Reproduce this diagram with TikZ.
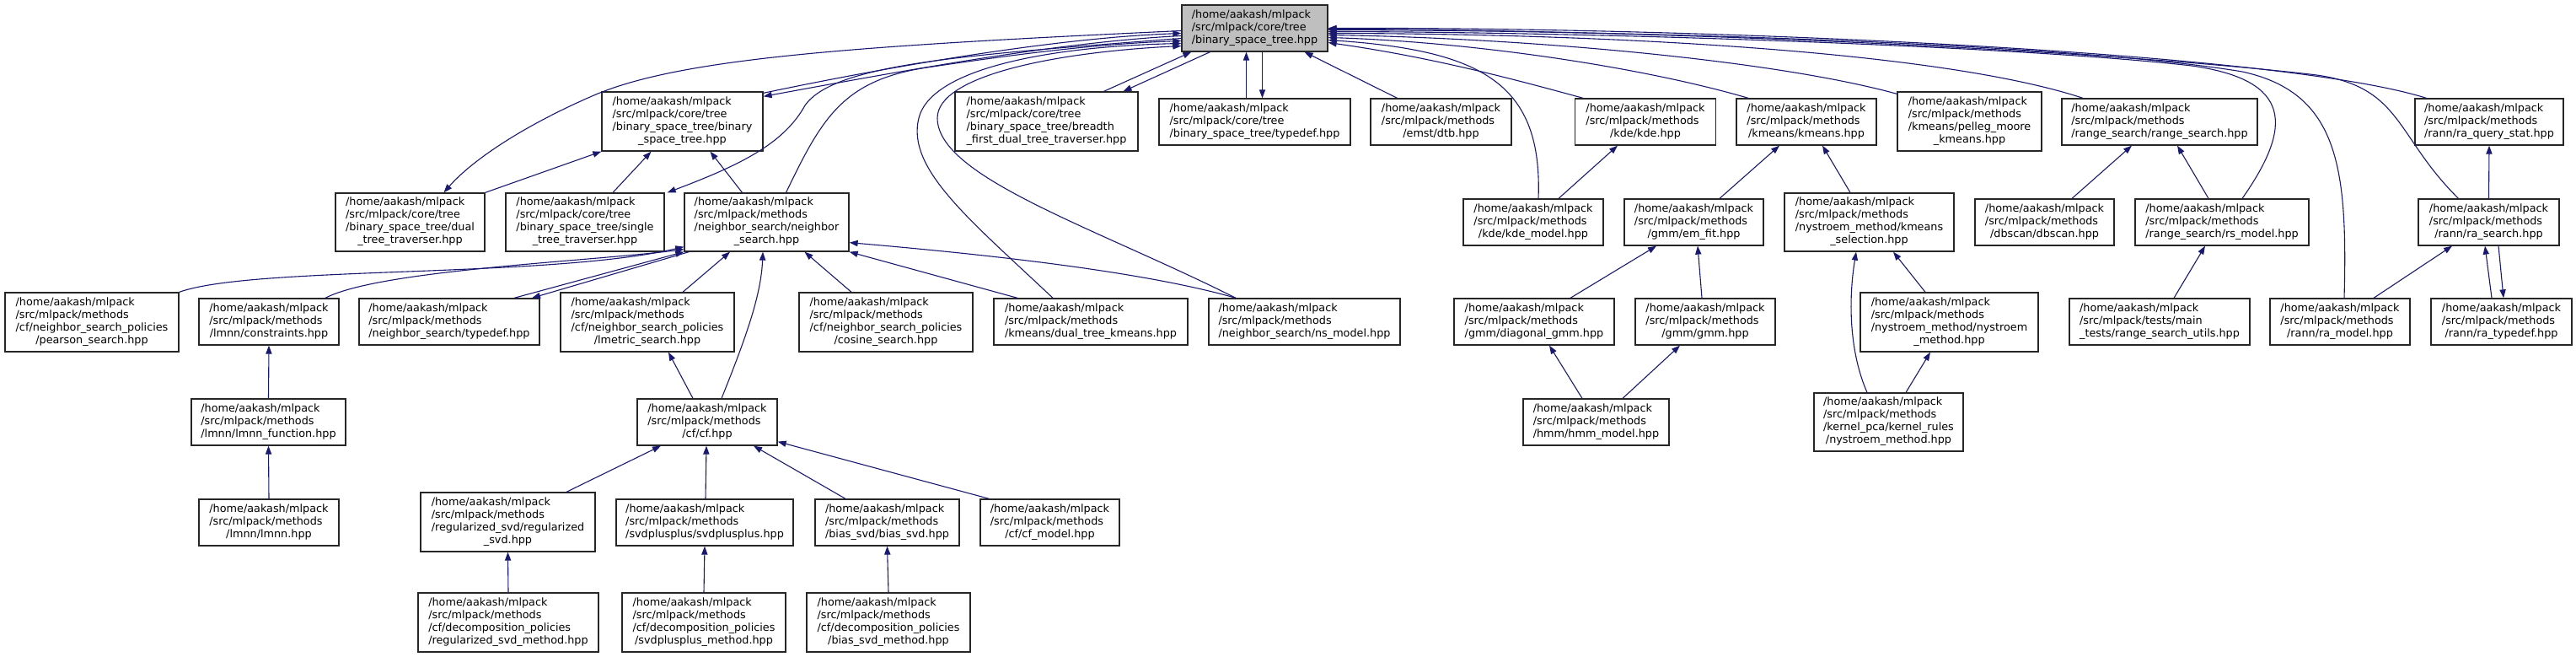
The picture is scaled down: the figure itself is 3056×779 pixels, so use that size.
\documentclass[tikz,border=0pt]{standalone}
\usepackage{fontspec}
\setmainfont{DejaVu Sans}
\usetikzlibrary{arrows.meta}
\definecolor{edgeblue}{RGB}{25,25,112}
\definecolor{rootfill}{RGB}{191,191,191}
\newcommand{\hpath}[2]{\begin{tabular}{@{}l@{}}#1\\\multicolumn{1}{@{}c@{}}{#2}\end{tabular}}

\begin{document}
\begin{tikzpicture}[x=0.5pt, y=-0.5pt,
    hfile/.style 2 args={draw=black!85, line width=0.65pt, fill=white, inner sep=0pt,
        minimum width=#1*0.5pt, minimum height=#2*0.5pt, font=\fontsize{6.4}{7.5}\selectfont},
    incl/.style={draw=edgeblue, line width=0.55pt, -{Triangle[length=5pt,width=3.6pt]}}]
    \useasboundingbox (0,0) rectangle (3056,779);

    % Root file
    \node[hfile={173}{55}, fill=rootfill] (root) at (1488.5,33.5) {\hpath{/home/aakash/mlpack\\/src/mlpack/core/tree}{/binary\_space\_tree.hpp}};

    % First row
    \node[hfile={191}{70}] (binary) at (809.5,144) {\hpath{/home/aakash/mlpack\\/src/mlpack/core/tree\\/binary\_space\_tree/binary}{\_space\_tree.hpp}};
    \node[hfile={217}{70}] (breadth) at (1241.5,144) {\hpath{/home/aakash/mlpack\\/src/mlpack/core/tree\\/binary\_space\_tree/breadth}{\_first\_dual\_tree\_traverser.hpp}};
    \node[hfile={227}{55}] (bsttypedef) at (1488.5,144.5) {\hpath{/home/aakash/mlpack\\/src/mlpack/core/tree}{/binary\_space\_tree/typedef.hpp}};
    \node[hfile={167}{55}] (emst) at (1709.5,144.5) {\hpath{/home/aakash/mlpack\\/src/mlpack/methods}{/emst/dtb.hpp}};
    \node[hfile={167}{55}] (kde) at (1952,144.5) {\hpath{/home/aakash/mlpack\\/src/mlpack/methods}{/kde/kde.hpp}};
    \node[hfile={166}{55}] (kmeans) at (2143,144.5) {\hpath{/home/aakash/mlpack\\/src/mlpack/methods}{/kmeans/kmeans.hpp}};
    \node[hfile={171}{70}] (pelleg) at (2336.5,144) {\hpath{/home/aakash/mlpack\\/src/mlpack/methods\\/kmeans/pelleg\_moore}{\_kmeans.hpp}};
    \node[hfile={232}{55}] (rangesearch) at (2562,144.5) {\hpath{/home/aakash/mlpack\\/src/mlpack/methods}{/range\_search/range\_search.hpp}};
    \node[hfile={176}{55}] (raquery) at (2953,144.5) {\hpath{/home/aakash/mlpack\\/src/mlpack/methods}{/rann/ra\_query\_stat.hpp}};

    % Second row
    \node[hfile={177}{69}] (dualtt) at (486.5,263.5) {\hpath{/home/aakash/mlpack\\/src/mlpack/core/tree\\/binary\_space\_tree/dual}{\_tree\_traverser.hpp}};
    \node[hfile={188}{69}] (singlett) at (694,263.5) {\hpath{/home/aakash/mlpack\\/src/mlpack/core/tree\\/binary\_space\_tree/single}{\_tree\_traverser.hpp}};
    \node[hfile={195}{69}] (nsearch) at (909.5,263.5) {\hpath{/home/aakash/mlpack\\/src/mlpack/methods\\/neighbor\_search/neighbor}{\_search.hpp}};
    \node[hfile={166}{55}] (kdemodel) at (1819,263.5) {\hpath{/home/aakash/mlpack\\/src/mlpack/methods}{/kde/kde\_model.hpp}};
    \node[hfile={165}{55}] (emfit) at (2009.5,263.5) {\hpath{/home/aakash/mlpack\\/src/mlpack/methods}{/gmm/em\_fit.hpp}};
    \node[hfile={201}{69}] (kmeanssel) at (2217.5,263.5) {\hpath{/home/aakash/mlpack\\/src/mlpack/methods\\/nystroem\_method/kmeans}{\_selection.hpp}};
    \node[hfile={165}{55}] (dbscan) at (2425.5,263.5) {\hpath{/home/aakash/mlpack\\/src/mlpack/methods}{/dbscan/dbscan.hpp}};
    \node[hfile={206}{55}] (rsmodel) at (2636,263.5) {\hpath{/home/aakash/mlpack\\/src/mlpack/methods}{/range\_search/rs\_model.hpp}};
    \node[hfile={167}{55}] (rasearch) at (2952.5,263.5) {\hpath{/home/aakash/mlpack\\/src/mlpack/methods}{/rann/ra\_search.hpp}};

    % Third row
    \node[hfile={206}{70}] (pearson) at (109,382) {\hpath{/home/aakash/mlpack\\/src/mlpack/methods\\/cf/neighbor\_search\_policies}{/pearson\_search.hpp}};
    \node[hfile={166}{55}] (constraints) at (319,381.5) {\hpath{/home/aakash/mlpack\\/src/mlpack/methods}{/lmnn/constraints.hpp}};
    \node[hfile={214}{55}] (nstypedef) at (533,381.5) {\hpath{/home/aakash/mlpack\\/src/mlpack/methods}{/neighbor\_search/typedef.hpp}};
    \node[hfile={206}{70}] (lmetric) at (768,382) {\hpath{/home/aakash/mlpack\\/src/mlpack/methods\\/cf/neighbor\_search\_policies}{/lmetric\_search.hpp}};
    \node[hfile={206}{70}] (cosine) at (1051,382) {\hpath{/home/aakash/mlpack\\/src/mlpack/methods\\/cf/neighbor\_search\_policies}{/cosine\_search.hpp}};
    \node[hfile={230}{55}] (dtkmeans) at (1294,381.5) {\hpath{/home/aakash/mlpack\\/src/mlpack/methods}{/kmeans/dual\_tree\_kmeans.hpp}};
    \node[hfile={227}{55}] (nsmodel) at (1547.5,381.5) {\hpath{/home/aakash/mlpack\\/src/mlpack/methods}{/neighbor\_search/ns\_model.hpp}};
    \node[hfile={190}{55}] (diaggmm) at (1820,381.5) {\hpath{/home/aakash/mlpack\\/src/mlpack/methods}{/gmm/diagonal\_gmm.hpp}};
    \node[hfile={166}{55}] (gmm) at (2023,381.5) {\hpath{/home/aakash/mlpack\\/src/mlpack/methods}{/gmm/gmm.hpp}};
    \node[hfile={211}{70}] (nystroem) at (2312.5,382) {\hpath{/home/aakash/mlpack\\/src/mlpack/methods\\/nystroem\_method/nystroem}{\_method.hpp}};
    \node[hfile={214}{55}] (rsutils) at (2562,381.5) {\hpath{/home/aakash/mlpack\\/src/mlpack/tests/main}{\_tests/range\_search\_utils.hpp}};
    \node[hfile={166}{55}] (ramodel) at (2776,381.5) {\hpath{/home/aakash/mlpack\\/src/mlpack/methods}{/rann/ra\_model.hpp}};
    \node[hfile={167}{55}] (ratypedef) at (2967.5,381.5) {\hpath{/home/aakash/mlpack\\/src/mlpack/methods}{/rann/ra\_typedef.hpp}};

    % Fourth row
    \node[hfile={183}{55}] (lmnnfn) at (318.5,500.5) {\hpath{/home/aakash/mlpack\\/src/mlpack/methods}{/lmnn/lmnn\_function.hpp}};
    \node[hfile={166}{55}] (cf) at (839,500.5) {\hpath{/home/aakash/mlpack\\/src/mlpack/methods}{/cf/cf.hpp}};
    \node[hfile={173}{55}] (hmm) at (1893.5,500.5) {\hpath{/home/aakash/mlpack\\/src/mlpack/methods}{/hmm/hmm\_model.hpp}};
    \node[hfile={177}{69}] (krnystroem) at (2240.5,500.5) {\hpath{/home/aakash/mlpack\\/src/mlpack/methods\\/kernel\_pca/kernel\_rules}{/nystroem\_method.hpp}};

    % Fifth row
    \node[hfile={166}{55}] (lmnn) at (319,619.5) {\hpath{/home/aakash/mlpack\\/src/mlpack/methods}{/lmnn/lmnn.hpp}};
    \node[hfile={207}{70}] (regsvd) at (602.5,619) {\hpath{/home/aakash/mlpack\\/src/mlpack/methods\\/regularized\_svd/regularized}{\_svd.hpp}};
    \node[hfile={210}{55}] (svdpp) at (836,619.5) {\hpath{/home/aakash/mlpack\\/src/mlpack/methods}{/svdplusplus/svdplusplus.hpp}};
    \node[hfile={171}{55}] (biassvd) at (1052.5,619.5) {\hpath{/home/aakash/mlpack\\/src/mlpack/methods}{/bias\_svd/bias\_svd.hpp}};
    \node[hfile={165}{55}] (cfmodel) at (1245.5,619.5) {\hpath{/home/aakash/mlpack\\/src/mlpack/methods}{/cf/cf\_model.hpp}};

    % Sixth row
    \node[hfile={214}{70}] (regsvdm) at (603,738) {\hpath{/home/aakash/mlpack\\/src/mlpack/methods\\/cf/decomposition\_policies}{/regularized\_svd\_method.hpp}};
    \node[hfile={194}{70}] (svdppm) at (835,738) {\hpath{/home/aakash/mlpack\\/src/mlpack/methods\\/cf/decomposition\_policies}{/svdplusplus\_method.hpp}};
    \node[hfile={194}{70}] (biassvdm) at (1054,738) {\hpath{/home/aakash/mlpack\\/src/mlpack/methods\\/cf/decomposition\_policies}{/bias\_svd\_method.hpp}};

    % Links to the root, left side
    \draw[incl] ([shift={(0,2)}]binary.north east) .. controls (1050,80) and (1250,45) .. ([shift={(0,6)}]root.west);
    \draw[incl] ([shift={(0,9)}]root.west) .. controls (1250,50) and (1050,88) .. ([shift={(0,6)}]binary.north east);
    \draw[incl] ([shift={(0,3)}]root.west) .. controls (1000,55) and (800,70) .. (700,115) .. controls (620,150) and (560,190) .. ([shift={(40,0)}]dualtt.north);
    \draw[incl] ([shift={(0,12)}]root.west) .. controls (1150,65) and (990,75) .. (955,125) .. controls (930,170) and (880,195) .. ([shift={(3,0)}]singlett.north east);
    \draw[incl] ([shift={(23,0)}]nsearch.north) .. controls (975,140) and (1000,95) .. (1100,80) .. controls (1200,65) and (1300,52) .. ([shift={(0,15)}]root.west);
    \draw[incl] ([shift={(-45,0)}]dtkmeans.north) .. controls (1150,260) and (1075,200) .. (1090,140) .. controls (1105,80) and (1250,55) .. ([shift={(0,18)}]root.west);
    \draw[incl] ([shift={(-81.5,0)}]nsmodel.north) .. controls (1300,270) and (1112,210) .. (1112,140) .. controls (1112,90) and (1250,62) .. ([shift={(0,21)}]root.west);

    % Links to the root, below
    \draw[incl] ([shift={(68,0)}]breadth.north) -- ([shift={(12,0)}]root.south west);
    \draw[incl] ([shift={(-53,0)}]root.south) -- ([shift={(91,0)}]breadth.north);
    \draw[incl] ([shift={(-10,0)}]bsttypedef.north) -- ([shift={(-10,0)}]root.south);
    \draw[incl] ([shift={(9,0)}]root.south) -- ([shift={(9,0)}]bsttypedef.north);
    \draw[incl] ([shift={(-52,0)}]emst.north) -- ([shift={(59,0)}]root.south);

    % Links to the root, right side
    \draw[incl] ([shift={(-74,0)}]kde.north) .. controls (1800,95) and (1700,68) .. ([shift={(0,17)}]root.east);
    \draw[incl] ([shift={(6,0)}]kdemodel.north) .. controls (1830,100) and (1760,60) .. ([shift={(0,14)}]root.east);
    \draw[incl] ([shift={(-69,0)}]kmeans.north) .. controls (1950,80) and (1750,50) .. ([shift={(0,11)}]root.east);
    \draw[incl] ([shift={(0,3)}]pelleg.north west) .. controls (2100,70) and (1800,45) .. ([shift={(0,8)}]root.east);
    \draw[incl] ([shift={(-91,0)}]rangesearch.north) .. controls (2300,60) and (1900,40) .. ([shift={(0,6)}]root.east);
    \draw[incl] ([shift={(24,0)}]rsmodel.north) .. controls (2720,150) and (2720,95) .. (2600,78) .. controls (2400,55) and (1900,38) .. ([shift={(0,4)}]root.east);
    \draw[incl] ([shift={(5,0)}]ramodel.north) .. controls (2785,200) and (2775,110) .. (2660,85) .. controls (2450,50) and (1900,36) .. ([shift={(0,2)}]root.east);
    \draw[incl] ([shift={(-36,0)}]rasearch.north) .. controls (2840,160) and (2850,100) .. (2740,88) .. controls (2450,55) and (1900,35) .. ([shift={(0,1)}]root.east);
    \draw[incl] ([shift={(14,0)}]raquery.north west) .. controls (2700,60) and (2000,32) .. (root.east);

    % Binary space tree and neighbor search
    \draw[incl] (dualtt.north east) -- (binary.south west);
    \draw[incl] ([shift={(33,0)}]singlett.north) -- ([shift={(-37,0)}]binary.south);
    \draw[incl] ([shift={(-29,0)}]nsearch.north) -- ([shift={(33,0)}]binary.south);
    \draw[incl] (pearson.north east) .. controls (300,315) and (650,330) .. ([shift={(0,-6)}]nsearch.south west);
    \draw[incl] ([shift={(67,0)}]constraints.north) .. controls (450,320) and (700,310) .. ([shift={(0,-3)}]nsearch.south west);
    \draw[incl] ([shift={(77,0)}]nstypedef.north) -- (nsearch.south west);
    \draw[incl] ([shift={(6,0)}]nsearch.south west) -- ([shift={(98,0)}]nstypedef.north);
    \draw[incl] ([shift={(42,0)}]lmetric.north) -- ([shift={(-43.5,0)}]nsearch.south);
    \draw[incl] ([shift={(17,0)}]cf.north) .. controls (885,400) and (903,350) .. ([shift={(-4.5,0)}]nsearch.south);
    \draw[incl] ([shift={(-41,0)}]cosine.north) -- ([shift={(45,0)}]nsearch.south);
    \draw[incl] ([shift={(-87,0)}]dtkmeans.north) -- (nsearch.south east);
    \draw[incl] ([shift={(-81.5,0)}]nsmodel.north) .. controls (1350,320) and (1150,300) .. ([shift={(0,-11)}]nsearch.south east);

    % lmnn and cf
    \draw[incl] (lmnnfn.north) -- (constraints.south);
    \draw[incl] (lmnn.north) -- (lmnnfn.south);
    \draw[incl] ([shift={(-17,0)}]cf.north) -- ([shift={(25,0)}]lmetric.south);
    \draw[incl] ([shift={(69.5,0)}]regsvd.north) -- ([shift={(-55,0)}]cf.south);
    \draw[incl] ([shift={(1,0)}]svdpp.north) -- ([shift={(-1,0)}]cf.south);
    \draw[incl] ([shift={(-49.5,0)}]biassvd.north) -- ([shift={(55,0)}]cf.south);
    \draw[incl] ([shift={(11,0)}]cfmodel.north west) -- ([shift={(0,-5)}]cf.south east);
    \draw[incl] (regsvdm.north) -- (regsvd.south);
    \draw[incl] (svdppm.north) -- (svdpp.south);
    \draw[incl] (biassvdm.north) -- (biassvd.south);

    % kde, kmeans and gmm
    \draw[incl] ([shift={(30,0)}]kdemodel.north) -- ([shift={(-33,0)}]kde.south);
    \draw[incl] ([shift={(30.5,0)}]emfit.north) -- ([shift={(-32,0)}]kmeans.south);
    \draw[incl] ([shift={(-22.5,0)}]kmeanssel.north) -- ([shift={(19,0)}]kmeans.south);
    \draw[incl] ([shift={(43,0)}]diaggmm.north) -- ([shift={(-44.5,0)}]emfit.south);
    \draw[incl] ([shift={(-4,0)}]gmm.north) -- ([shift={(4.5,0)}]emfit.south);
    \draw[incl] ([shift={(-16.5,0)}]hmm.north) -- ([shift={(18,0)}]diaggmm.south);
    \draw[incl] ([shift={(31.5,0)}]hmm.north) -- ([shift={(-30,0)}]gmm.south);
    \draw[incl] ([shift={(-28.5,0)}]nystroem.north) -- ([shift={(28.5,0)}]kmeanssel.south);
    \draw[incl] ([shift={(-25.5,0)}]krnystroem.north) .. controls (2195,420) and (2192,360) .. ([shift={(-15.5,0)}]kmeanssel.south);
    \draw[incl] ([shift={(20.5,0)}]krnystroem.north) -- ([shift={(-22.5,0)}]nystroem.south);

    % range search and rann
    \draw[incl] ([shift={(32.5,0)}]dbscan.north) -- ([shift={(-33,0)}]rangesearch.south);
    \draw[incl] ([shift={(-16,0)}]rsmodel.north) -- ([shift={(21,0)}]rangesearch.south);
    \draw[incl] ([shift={(17,0)}]rsutils.north) -- ([shift={(-20,0)}]rsmodel.south);
    \draw[incl] (rasearch.north) -- (raquery.south);
    \draw[incl] ([shift={(40,0)}]ramodel.north) -- ([shift={(-43.5,0)}]rasearch.south);
    \draw[incl] ([shift={(-11.5,0)}]ratypedef.north) -- ([shift={(-4.5,0)}]rasearch.south);
    \draw[incl] ([shift={(11.5,0)}]rasearch.south) -- ([shift={(2.5,0)}]ratypedef.north);
\end{tikzpicture}
\end{document}
